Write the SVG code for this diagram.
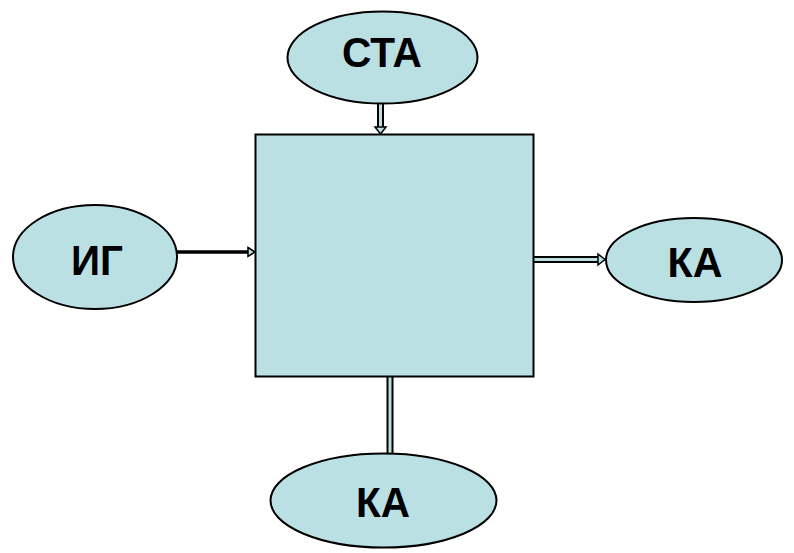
<svg xmlns="http://www.w3.org/2000/svg" width="794" height="553" viewBox="0 0 794 553">
<style>
.shape{fill:#bae0e4;stroke:#000;stroke-width:2}
.lbl{font-family:"Liberation Sans",Arial,sans-serif;font-weight:bold;font-size:42px;fill:#000;text-anchor:middle}
.outer{stroke:#000;stroke-width:7;fill:none}
.inner{stroke:#bae0e4;stroke-width:3;fill:none}
.head{fill:#bae0e4;stroke:#000;stroke-width:1.5}
</style>
<rect width="794" height="553" fill="#fff"/>
<g id="connectors">
<g id="c-sta">
<line class="outer" x1="380.5" y1="103" x2="380.5" y2="128"/>
<line class="inner" x1="380.5" y1="103" x2="380.5" y2="129"/>
<polygon class="head" points="375,127 386,127 380.5,134"/>
</g>
<g id="c-ig">
<line x1="177" y1="252" x2="249" y2="252" stroke="#000" stroke-width="3.5"/>
<polygon class="head" points="248,247.5 255,252 248,256.5"/>
</g>
<g id="c-ka-right">
<line class="outer" x1="534" y1="259.5" x2="599" y2="259.5"/>
<line class="inner" x1="534" y1="259.5" x2="600" y2="259.5"/>
<polygon class="head" points="598,254 605,259.5 598,265"/>
</g>
<g id="c-ka-bottom">
<line class="outer" x1="390" y1="377" x2="390" y2="454"/>
<line class="inner" x1="390" y1="377" x2="390" y2="454"/>
</g>
</g>
<g id="node-center">
<rect class="shape" x="255.5" y="134.5" width="278" height="242"/>
</g>
<g id="node-sta">
<ellipse class="shape" cx="382.5" cy="57.5" rx="95" ry="46"/>
<text class="lbl" x="382" y="67" textLength="80" lengthAdjust="spacingAndGlyphs">СТА</text>
</g>
<g id="node-ig">
<ellipse class="shape" cx="95" cy="257" rx="82" ry="52"/>
<text class="lbl" x="97" y="275" textLength="52" lengthAdjust="spacingAndGlyphs">ИГ</text>
</g>
<g id="node-ka-right">
<ellipse class="shape" cx="694" cy="260" rx="88" ry="42"/>
<text class="lbl" x="695" y="277" textLength="55" lengthAdjust="spacingAndGlyphs">КА</text>
</g>
<g id="node-ka-bottom">
<ellipse class="shape" cx="383.5" cy="500.5" rx="113" ry="47"/>
<text class="lbl" x="383" y="517" textLength="54" lengthAdjust="spacingAndGlyphs">КА</text>
</g>
</svg>
